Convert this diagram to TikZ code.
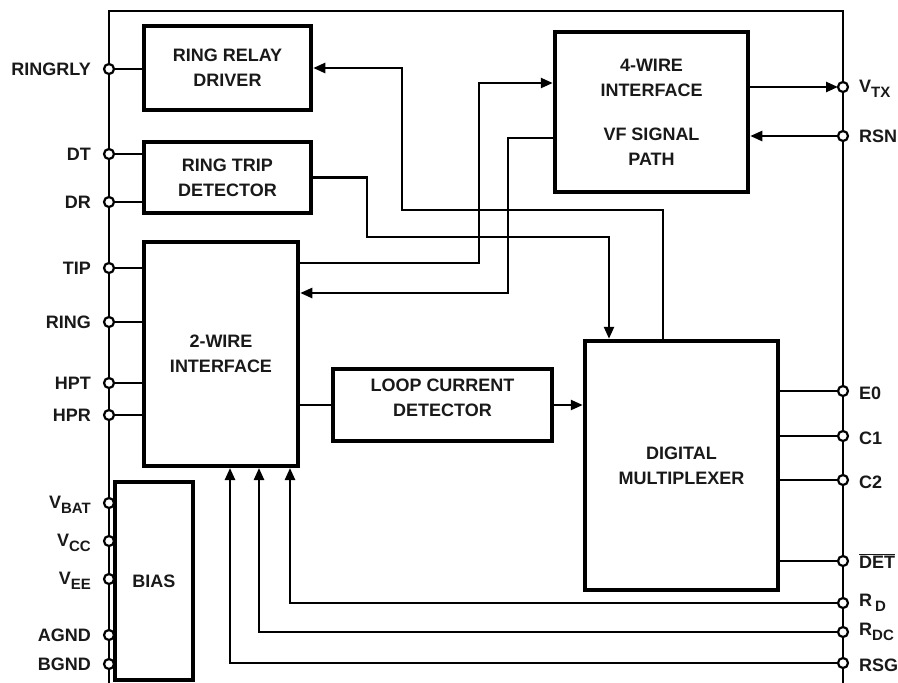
\documentclass[tikz,border=0pt]{standalone}
\usepackage{fontspec}
\setmainfont{Liberation Sans}
\usetikzlibrary{arrows.meta}
\newcommand\pinsub[1]{\raisebox{-5pt}{\fontsize{15}{15}\selectfont #1}}
\begin{document}
\begin{tikzpicture}[x=1pt,y=-1pt,
  every node/.style={font=\fontsize{18}{25}\selectfont\bfseries, text=black!90},
  blk/.style={draw, line width=4.5pt, inner sep=0pt, align=center},
  wire/.style={line width=2.4pt},
  arr/.style={wire, -{Triangle[length=12pt,width=10pt]}},
  pin/.style={circle, draw, fill=white, line width=2.2pt, inner sep=0pt, minimum size=10pt},
  lbl/.style={anchor=east, inner sep=0pt},
  rbl/.style={anchor=west, inner sep=0pt}]
\useasboundingbox (0,0) rectangle (898,683);
% frame
\draw[wire] (109,683) -- (109,11) -- (843,11) -- (843,683);
% blocks
\node[blk, minimum width=167pt, minimum height=84pt] (rrd) at (227.5,68) {RING RELAY\\DRIVER};
\node[blk, minimum width=167pt, minimum height=71pt] (rtd) at (227.5,177.5) {RING TRIP\\DETECTOR};
\node[blk, minimum width=193pt, minimum height=160pt] (fw) at (651.5,112) {4-WIRE\\INTERFACE\\[19pt]VF SIGNAL\\PATH};
\node[blk, minimum width=154pt, minimum height=224pt] (tw) at (221,354) {2-WIRE\\INTERFACE};
\node[blk, minimum width=219pt, minimum height=72pt] (lcd) at (442.5,405) {};
\node (lcdt) at (442.5,398) [align=center] {LOOP CURRENT\\DETECTOR};
\node[blk, minimum width=193pt, minimum height=249pt] (dm) at (681.5,465.5) {DIGITAL\\MULTIPLEXER};
\node[blk, minimum width=78pt, minimum height=198pt] (bias) at (154,581) {BIAS};
% pin coordinates
\coordinate (cRINGRLY) at (109,69);
\coordinate (cDT) at (109,154);
\coordinate (cDR) at (109,202);
\coordinate (cTIP) at (109,268);
\coordinate (cRING) at (109,322);
\coordinate (cHPT) at (109,383);
\coordinate (cHPR) at (109,415);
\coordinate (cVBAT) at (109,503);
\coordinate (cVCC) at (109,541);
\coordinate (cVEE) at (109,579);
\coordinate (cAGND) at (109,635);
\coordinate (cBGND) at (109,664);
\coordinate (cVTX) at (843,87);
\coordinate (cRSN) at (843,136);
\coordinate (cE0) at (843,391);
\coordinate (cC1) at (843,436);
\coordinate (cC2) at (843,480);
\coordinate (cDET) at (843,561);
\coordinate (cRD) at (843,603);
\coordinate (cRDC) at (843,632);
\coordinate (cRSG) at (843,663);
% bend coordinates
\coordinate (k1) at (663,210);
\coordinate (k2) at (402,210);
\coordinate (k3) at (367,177.5);
\coordinate (k4) at (367,237);
\coordinate (k5) at (609,237);
\coordinate (k6) at (479,263);
\coordinate (k7) at (479,83);
\coordinate (k8) at (508,138);
\coordinate (k9) at (508,293);
\coordinate (kRD) at (290,468);
\coordinate (kRDC) at (259,468);
\coordinate (kRSG) at (230,468);
% left pin wires
\draw[wire] (cRINGRLY) -- (rrd.west |- cRINGRLY);
\draw[wire] (cDT) -- (rtd.west |- cDT);
\draw[wire] (cDR) -- (rtd.west |- cDR);
\draw[wire] (cTIP) -- (tw.west |- cTIP);
\draw[wire] (cRING) -- (tw.west |- cRING);
\draw[wire] (cHPT) -- (tw.west |- cHPT);
\draw[wire] (cHPR) -- (tw.west |- cHPR);
% internal connectors
\draw[arr] (dm.north -| k1) -- (k1) -- (k2) |- (rrd.east);
\draw[arr] (rtd.east) -- (k3) -- (k4) -- (k5) -- (dm.north -| k5);
\draw[arr] (tw.east |- k6) -- (k6) -- (k7) -- (fw.west |- k7);
\draw[arr] (fw.west |- k8) -- (k8) -- (k9) -- (tw.east |- k9);
\draw[wire] (tw.east |- lcd.west) -- (lcd.west);
\draw[arr] (lcd.east) -- (dm.west |- lcd.east);
\draw[arr] (fw.east |- cVTX) -- ([xshift=-5pt]cVTX);
\draw[arr] (cRSN) -- (fw.east |- cRSN);
\draw[wire] (dm.east |- cE0) -- (cE0);
\draw[wire] (dm.east |- cC1) -- (cC1);
\draw[wire] (dm.east |- cC2) -- (cC2);
\draw[wire] (dm.east |- cDET) -- (cDET);
\draw[arr] (cRD) -| (kRD);
\draw[arr] (cRDC) -| (kRDC);
\draw[arr] (cRSG) -| (kRSG);
% pins
\foreach \p in {RINGRLY,DT,DR,TIP,RING,HPT,HPR,VBAT,VCC,VEE,AGND,BGND,VTX,RSN,E0,C1,C2,DET,RD,RDC,RSG}
  \node[pin] (p\p) at (c\p) {};
% left labels
\node[lbl] (lRINGRLY) at (91,69) {RINGRLY};
\node[lbl] (lDT) at (91,154) {DT};
\node[lbl] (lDR) at (91,202) {DR};
\node[lbl] (lTIP) at (91,268) {TIP};
\node[lbl] (lRING) at (91,322) {RING};
\node[lbl] (lHPT) at (91,383) {HPT};
\node[lbl] (lHPR) at (91,415) {HPR};
\node[lbl] (lVBAT) at (91,505) {V\pinsub{BAT}};
\node[lbl] (lVCC) at (91,543) {V\pinsub{CC}};
\node[lbl] (lVEE) at (91,581) {V\pinsub{EE}};
\node[lbl] (lAGND) at (91,635) {AGND};
\node[lbl] (lBGND) at (91,664) {BGND};
% right labels
\node[rbl] (lVTX) at (859,89) {V\pinsub{TX}};
\node[rbl] (lRSN) at (859,136) {RSN};
\node[rbl] (lE0) at (859,393) {E0};
\node[rbl] (lC1) at (859,438) {C1};
\node[rbl] (lC2) at (859,482) {C2};
\node[rbl] (lDET) at (859,561) {$\overline{\hbox{DET}}$};
\node[rbl] (lRD) at (859,603) {R\,\pinsub{D}};
\node[rbl] (lRDC) at (859,632) {R\pinsub{DC}};
\node[rbl] (lRSG) at (859,665) {RSG};
\end{tikzpicture}
\end{document}
